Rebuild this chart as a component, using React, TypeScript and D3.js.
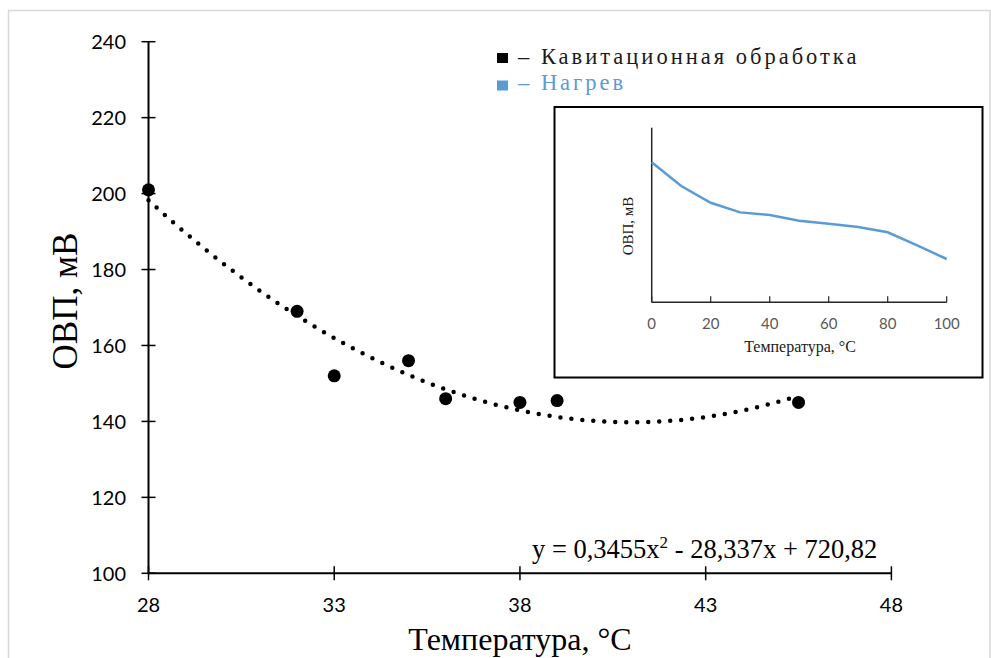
import React from "react";
import * as d3 from "d3";

const W = 991;
const H = 658;

// Cavitation treatment: temperature (°C) vs ORP (mV)
const tempCavitation = [28, 32, 33, 35, 36, 38, 39, 45.5];
const orpCavitation = [201, 169, 152, 156, 146, 145, 145.5, 145];

// Quadratic trend: y = a·x² + b·x + c
const trendCoeffs = [0.3455, -28.337, 720.82];
const trendLabel = ["y = 0,3455x", "2", " - 28,337x + 720,82"];

const xTicks = [28, 33, 38, 43, 48];
const yTicks = [100, 120, 140, 160, 180, 200, 220, 240];

// Heating curve (inset, relative ORP units)
const heatTemp = [0, 10, 20, 30, 40, 50, 60, 70, 80, 90, 100];
const heatOrp = [80.2, 66.6, 57.0, 51.5, 50.0, 46.7, 45.0, 43.1, 40.1, 32.6, 24.8];
const heatTicks = [0, 20, 40, 60, 80, 100];

const legendItems = [
  { label: "– Кавитационная обработка", color: "#000000", text: "#1a1a1a" },
  { label: "– Нагрев", color: "#5b9bd5", text: "#5b9bd5" },
];

const SANS = "Lato, 'Liberation Sans', sans-serif";
const SERIF = "'Liberation Serif', 'Times New Roman', serif";

export default function App() {
  const x = d3.scaleLinear().domain([28, 48]).range([148.5, 891.4]);
  const y = d3.scaleLinear().domain([100, 240]).range([573.3, 41.7]);

  const [a, b, c] = trendCoeffs;
  const trendX = d3.range(28, 45.5 + 1e-9, 0.05);
  const trendPath = d3
    .line<number>()
    .x((t) => x(t))
    .y((t) => y(a * t * t + b * t + c))(trendX);

  const ix = d3.scaleLinear().domain([0, 100]).range([651.7, 946.7]);
  const iy = d3.scaleLinear().domain([0, 100]).range([302.3, 127.7]);
  const heatPath = d3
    .line<number>()
    .x((_, i) => ix(heatTemp[i]))
    .y((v) => iy(v))(heatOrp);

  const x0 = x.range()[0];
  const y0 = y.range()[0];

  return (
    <svg
      width={W}
      height={H}
      viewBox={`0 0 ${W} ${H}`}
      style={{ position: "absolute", left: 0, top: 0, background: "#fff" }}
    >
      <rect x={0} y={0} width={W} height={H} fill="#fff" />
      {/* chart frame */}
      <rect x={8.5} y={10.5} width={981.5} height={700} fill="none" stroke="#d9d9d9" strokeWidth={1.5} />

      {/* y axis */}
      <line x1={x0} x2={x0} y1={y(240)} y2={y0} stroke="#000" strokeWidth={2} />
      {yTicks.map((t) => (
        <g key={`yt${t}`}>
          <line x1={x0 - 7} x2={x0 + 7} y1={y(t)} y2={y(t)} stroke="#000" strokeWidth={1.5} />
          <text
            x={126}
            y={y(t)}
            dy="0.36em"
            textAnchor="end"
            fontFamily={SANS}
            fontSize={20}
            fill="#000"
          >
            {t}
          </text>
        </g>
      ))}

      {/* x axis */}
      <line x1={x0} x2={x(48)} y1={y0} y2={y0} stroke="#000" strokeWidth={2} />
      {xTicks.map((t) => (
        <g key={`xt${t}`}>
          <line x1={x(t)} x2={x(t)} y1={y0 - 7} y2={y0 + 7} stroke="#000" strokeWidth={1.5} />
          <text x={x(t)} y={612} textAnchor="middle" fontFamily={SANS} fontSize={20} fill="#000">
            {t}
          </text>
        </g>
      ))}

      {/* axis titles */}
      <text x={520} y={650} textAnchor="middle" fontFamily={SERIF} fontSize={32} fill="#000">
        Температура, °С
      </text>
      <text
        transform={`translate(77,301) rotate(-90)`}
        textAnchor="middle"
        fontFamily={SERIF}
        fontSize={35}
        fill="#000"
      >
        ОВП, мВ
      </text>

      {/* trend line */}
      <path
        d={trendPath ?? ""}
        fill="none"
        stroke="#000"
        strokeWidth={4.5}
        strokeLinecap="round"
        strokeDasharray="0 11"
      />

      {/* measured points */}
      {tempCavitation.map((t, i) => (
        <circle key={`p${i}`} cx={x(t)} cy={y(orpCavitation[i])} r={6.5} fill="#000" />
      ))}

      {/* trend equation */}
      <text x={532} y={558} fontFamily={SERIF} fontSize={26.5} fill="#000">
        {trendLabel[0]}
        <tspan fontSize={17} dy={-10}>
          {trendLabel[1]}
        </tspan>
        <tspan dy={10}>{trendLabel[2]}</tspan>
      </text>

      {/* legend */}
      {legendItems.map((item, i) => (
        <g key={`lg${i}`}>
          <rect x={497} y={53 + i * 27.5} width={11} height={10} fill={item.color} />
          <text
            x={518}
            y={64 + i * 25.5}
            fontFamily={SERIF}
            fontSize={22.5}
            letterSpacing={3}
            fill={item.text}
          >
            {item.label}
          </text>
        </g>
      ))}

      {/* inset: heating curve */}
      <rect x={554.5} y={107} width={428} height={270.5} fill="#fff" stroke="#000" strokeWidth={2} />
      <line x1={ix(0)} x2={ix(0)} y1={iy(100)} y2={iy(0)} stroke="#262626" strokeWidth={1.5} />
      <line x1={ix(0)} x2={ix(100)} y1={iy(0)} y2={iy(0)} stroke="#262626" strokeWidth={1.5} />
      {heatTicks.map((t) => (
        <g key={`it${t}`}>
          <line x1={ix(t)} x2={ix(t)} y1={iy(0)} y2={iy(0) - 6} stroke="#262626" strokeWidth={1.2} />
          <text x={ix(t)} y={328.5} textAnchor="middle" fontFamily={SANS} fontSize={15} fill="#595959">
            {t}
          </text>
        </g>
      ))}
      <path d={heatPath ?? ""} fill="none" stroke="#5b9bd5" strokeWidth={2.5} />
      <text x={800} y={352} textAnchor="middle" fontFamily={SERIF} fontSize={16} fill="#1a1a1a">
        Температура, °С
      </text>
      <text
        transform={`translate(633,226) rotate(-90)`}
        textAnchor="middle"
        fontFamily={SERIF}
        fontSize={15}
        fill="#1a1a1a"
      >
        ОВП, мВ
      </text>
    </svg>
  );
}
